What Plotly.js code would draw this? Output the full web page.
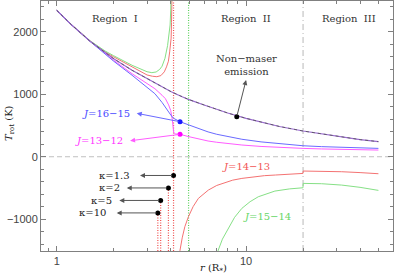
<!DOCTYPE html>
<html><head><meta charset="utf-8">
<script src="https://cdn.plot.ly/plotly-3.0.1.min.js"></script>
<style>html,body{margin:0;padding:0;background:#fff}#chart{width:395px;height:275px}</style>
</head><body><div id="chart"></div>
<script>
// ---- data ----
const r_nonmaser = [1, 1.2, 1.5, 2, 2.5, 3, 3.5, 4, 4.5, 5, 6, 7, 8, 10, 12, 15, 20, 25, 30, 40, 50];
const T_nonmaser = [2345, 2110, 1850, 1570, 1385, 1250, 1140, 1045, 975, 915, 830, 760, 700, 615, 555, 485, 412, 365, 325, 275, 242];

const r_j1615 = [1, 1.2, 1.5, 1.7, 2, 2.5, 3, 3.3, 3.6, 3.8, 3.9, 4.0, 4.13, 4.25, 4.48, 5, 5.6, 6.3, 7, 8, 9.5, 12, 15, 20, 25, 30, 40, 50];
const T_j1615 = [2345, 2110, 1848, 1710, 1530, 1305, 1120, 1010, 870, 760, 715, 670, 618, 598, 561, 508, 450, 398, 360, 320, 280, 238, 207, 176, 162, 152, 141, 134];

const r_j1312 = [1, 1.2, 1.5, 1.7, 2, 2.5, 3, 3.3, 3.6, 3.75, 3.9, 4.0, 4.08, 4.12, 4.15, 4.25, 4.48, 5, 5.6, 6.3, 7, 8, 9.5, 12, 15, 20, 25, 30, 40, 50];
const T_j1312 = [2345, 2110, 1850, 1715, 1545, 1330, 1180, 1090, 985, 930, 830, 740, 590, 450, 385, 365, 359, 321, 285, 252, 232, 212, 188, 165, 148, 134, 125, 118, 111, 107];

const r_j1413_pos = [1, 1.2, 1.5, 1.8, 2, 2.5, 3, 3.2, 3.38, 3.55, 3.7, 3.8, 3.89, 3.95, 4.0, 4.02, 4.04, 4.055, 4.07];
const T_j1413_pos = [2345, 2112, 1855, 1680, 1600, 1435, 1310, 1290, 1282, 1300, 1360, 1440, 1530, 1680, 1800, 1900, 2150, 2450, 2700];
const r_j1413_neg = [4.44, 4.48, 4.6, 4.75, 4.96, 5.25, 5.6, 6.0, 6.32, 7, 7.74, 8.5, 9.5, 11, 12.5, 14.3, 17, 19.98, 20.02, 25, 32, 40, 50];
const T_j1413_neg = [-1600, -1496, -1300, -1120, -962, -800, -667, -590, -534, -460, -411, -375, -347, -318, -303, -293, -280, -267, -229, -232, -240, -254, -272];

const r_j1514_pos = [1, 1.2, 1.5, 1.8, 2, 2.5, 3, 3.18, 3.35, 3.5, 3.6, 3.73, 3.85, 3.92, 3.97, 4.0, 4.02];
const T_j1514_pos = [2345, 2112, 1858, 1695, 1618, 1465, 1362, 1347, 1358, 1400, 1450, 1577, 1780, 1950, 2111, 2350, 2700];
const r_j1514_neg = [7.05, 7.13, 7.5, 8.08, 8.7, 9.5, 10.5, 11.6, 13, 14.2, 17, 19.98, 20.02, 25, 32, 40, 50];
const T_j1514_neg = [-1600, -1496, -1320, -1148, -970, -827, -720, -641, -590, -550, -515, -497, -427, -432, -454, -490, -539];

const kappa_labels = ['κ=1.3', 'κ=2', 'κ=5', 'κ=10'];
const kappa_r = [4.14, 3.89, 3.54, 3.42];
const kappa_T = [-300, -500, -700, -900];

const r_region_boundary = 20;
const r_green_limit = 4.97;
const nonmaser_dot = [8.93, 641];
const j1615_dot = [4.48, 561];
const j1312_dot = [4.48, 359];

const region_labels = ['Region  I', 'Region  II', 'Region  III'];
const region_r = [2.025, 10, 34.9];

// ---- styles ----
const RED = '#f47272', GREEN = '#86e086', BLUE = '#6a6aff', MAG = '#ff5cff';
const YMIN = -1510, YMAX = 2495;
const serif = 'DejaVu Serif';
const L = Math.log10;

const traces = [];
function line(x, y, color, extra) {
  traces.push(Object.assign({x: x, y: y, mode: 'lines', type: 'scatter', hoverinfo: 'skip',
    line: Object.assign({color: color, width: 1}, extra || {})}));
}
// reference lines
line([r_region_boundary, r_region_boundary], [YMIN, YMAX], '#b8b8b8', {dash: '6px,3px,1px,3px'});
line([r_green_limit, r_green_limit], [YMIN, YMAX], '#5ccf5c', {dash: '1px,1.5px', width: 1.2});
line([kappa_r[0], kappa_r[0]], [YMIN, YMAX], '#f05050', {dash: '1px,1.5px', width: 1.2});
for (let i = 1; i < kappa_r.length; i++) line([kappa_r[i], kappa_r[i]], [YMIN, kappa_T[i]], '#f05050', {dash: '1px,1.5px', width: 1.2});

// curves
line(r_j1413_pos, T_j1413_pos, RED);
line(r_j1514_pos, T_j1514_pos, GREEN);
line(r_j1413_neg, T_j1413_neg, RED);
line(r_j1514_neg, T_j1514_neg, GREEN);
line(r_j1312, T_j1312, MAG);
line(r_j1615, T_j1615, BLUE);
line(r_nonmaser, T_nonmaser, '#9a6ad0', {width: 1.1});
line(r_nonmaser, T_nonmaser, '#505050', {dash: '3px,3px', width: 0.8});

// dots
traces.push({x: kappa_r.concat([nonmaser_dot[0]]), y: kappa_T.concat([nonmaser_dot[1]]), mode: 'markers', type: 'scatter', hoverinfo: 'skip', marker: {color: '#000', size: 5}});
traces.push({x: [j1615_dot[0]], y: [j1615_dot[1]], mode: 'markers', type: 'scatter', hoverinfo: 'skip', marker: {color: '#1a1aff', size: 5}});
traces.push({x: [j1312_dot[0]], y: [j1312_dot[1]], mode: 'markers', type: 'scatter', hoverinfo: 'skip', marker: {color: '#ff00ff', size: 5}});

const ann = [];
function arrow(fromR, fromT, toR, toT, color) {
  ann.push({x: L(toR), y: toT, ax: L(fromR), ay: fromT, axref: 'x', ayref: 'y', xref: 'x', yref: 'y',
    text: '', showarrow: true, arrowhead: 2, arrowsize: 1, arrowwidth: 1, arrowcolor: color, standoff: 0, startstandoff: 0});
}
function label(r, T, text, color, anchor, size) {
  ann.push({x: L(r), y: T, xref: 'x', yref: 'y', text: text, showarrow: false, xanchor: anchor || 'center', yanchor: 'middle',
    font: {family: serif, size: size || 10, color: color}});
}
// regions
region_labels.forEach((t, i) => label(region_r[i], 2215, t, '#333'));
// kappa
const kappa_head_r = [2.754, 2.343, 2.141, 2.074];
const kappa_text_r = [2.49, 2.205, 2.008, 1.866];
kappa_labels.forEach((t, i) => {
  arrow(kappa_r[i], kappa_T[i], kappa_head_r[i], kappa_T[i], '#555');
  label(kappa_text_r[i], kappa_T[i], t, '#222', 'right');
});
// transitions
arrow(j1615_dot[0], j1615_dot[1], 2.647, 696, BLUE);
label(2.49, 696, '<i>J</i>=16−15', '#4a4aff', 'right');
arrow(j1312_dot[0], j1312_dot[1], 2.44, 256, MAG);
label(2.296, 256, '<i>J</i>=13−12', '#ff33ff', 'right');
label(10, -149, '<i>J</i>=14−13', '#f25555');
label(12.86, -962, '<i>J</i>=15−14', '#66d666');
arrow(nonmaser_dot[0], nonmaser_dot[1], 10, 1229, '#555');
label(10, 1465, 'Non−maser<br>emission', '#333');

const axisCommon = {showline: true, linecolor: '#808080', linewidth: 1, mirror: 'ticks', ticks: 'inside', ticklen: 5,
  tickcolor: '#808080', tickwidth: 1, showgrid: false, zeroline: false,
  tickfont: {family: 'Liberation Sans', size: 11, color: '#444'}};

const pw = 395 - 41 - 2, ph = 275 - 1 - 24;
// axis titles placed by pixel position
ann.push({x: (9 - 41) / pw, y: 1 - (123 - 1) / ph, xref: 'paper', yref: 'paper', text: '<i>T</i><sub>rot</sub> (K)', showarrow: false, textangle: -90,
  font: {family: serif, size: 10, color: '#222'}, xanchor: 'center', yanchor: 'middle'});
ann.push({x: (213 - 41) / pw, y: 1 - (268 - 1) / ph, xref: 'paper', yref: 'paper', text: '<i>r</i> (R<sub>*</sub>)',
  showarrow: false, font: {family: serif, size: 10, color: '#222'}, xanchor: 'center', yanchor: 'middle'});

const layout = {
  width: 395, height: 275, margin: {l: 41, r: 2, t: 1, b: 24},
  paper_bgcolor: '#fff', plot_bgcolor: '#fff', showlegend: false,
  xaxis: Object.assign({}, axisCommon, {type: 'log', range: [-0.083, 1.776], tickmode: 'array', tickvals: [1, 10], ticktext: ['1', '10'],
    minor: {tickmode: 'array', tickvals: [0.9, 2, 3, 4, 5, 6, 7, 8, 9, 20, 30, 40, 50], ticks: 'inside', ticklen: 3, tickcolor: '#808080', showgrid: false}}),
  yaxis: Object.assign({}, axisCommon, {range: [YMIN, YMAX], tickmode: 'array', tickvals: [-1000, 0, 1000, 2000], ticktext: ['−1000', '0', '1000', '2000'],
    minor: {tickmode: 'linear', tick0: 0, dtick: 200, ticks: 'inside', ticklen: 3, tickcolor: '#808080', showgrid: false}}),
  shapes: [{type: 'line', xref: 'paper', yref: 'y', x0: 0, x1: 1, y0: 0, y1: 0, line: {color: '#c0c0c0', width: 1, dash: '5px,3px'}, layer: 'below'}],
  annotations: ann
};

Plotly.newPlot('chart', traces, layout, {displayModeBar: false, staticPlot: true});
</script></body></html>
